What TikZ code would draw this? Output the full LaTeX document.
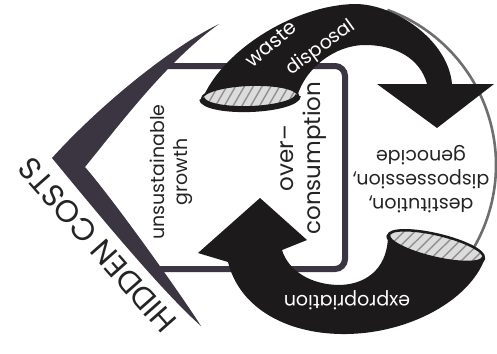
\documentclass[tikz,border=0pt]{standalone}
\usepackage{fontspec}
\setmainfont{Poppins}
\definecolor{chev}{HTML}{3A3540}
\definecolor{ink}{HTML}{1C1A1B}
\definecolor{txt}{HTML}{262326}
\definecolor{hatchbg}{HTML}{DCDCDC}
\definecolor{hatchln}{HTML}{909090}
\definecolor{ring}{HTML}{6E6E6E}
\tikzset{
  lbl/.style={text=txt, inner sep=0pt, align=center},
  wlbl/.style={text=white, inner sep=0pt, align=center},
  hatchline/.style={hatchln, line width=1.4},
}
\begin{document}
\begin{tikzpicture}[x=1pt,y=-1pt]
\useasboundingbox (0,0) rectangle (497,353);
\fill[white] (0,0) rectangle (497,353);

% ring (world circle), only right part visible
\draw[ring, line width=2.6] (331,165) ++(-70:165) arc[start angle=-70, end angle=35, radius=165];

% box
\draw[chev, line width=6, rounded corners=10] (160,66) -- (345,66) -- (345,269) -- (158,269);

% chevron
\fill[chev] (219,24) .. controls (170,48) and (100,105) .. (52,158)
  .. controls (85,198) and (160,290) .. (201,326)
  .. controls (178,290) and (112,198) .. (85,167)
  .. controls (120,124) and (168,60) .. (219,24) -- cycle;

% top arrow
\fill[ink] (202,100) .. controls (222,50) and (295,5) .. (355,4)
  .. controls (395,4) and (448,40) .. (452,84)
  -- (494,84) -- (437,128) -- (377,84) -- (427,84)
  .. controls (420,58) and (395,45) .. (365,45)
  .. controls (335,45) and (305,68) .. (297,97) -- cycle;
\begin{scope}[shift={(250,97)}, rotate=2]
  \begin{scope}
    \clip (0,0) ellipse [x radius=48, y radius=12];
    \fill[hatchbg] (-50,-14) rectangle (50,14);
    \foreach \i in {-76,-67,...,60} \draw[hatchline] (\i,16) -- ++(20,-32);
  \end{scope}
  \draw[ink, line width=2] (0,0) ellipse [x radius=48, y radius=12];
  \draw[ink, line width=6] (48,0) arc[start angle=0, end angle=180, x radius=48, y radius=12];
\end{scope}

% bottom arrow
\fill[ink] (485,258) .. controls (470,300) and (410,333) .. (347,334)
  .. controls (290,335) and (240,310) .. (228,262)
  -- (198,253) -- (260,198) -- (307,240) -- (282,250)
  .. controls (288,270) and (310,285) .. (340,285)
  .. controls (370,284) and (388,265) .. (388,235) -- cycle;
\begin{scope}[shift={(436,246.5)}, rotate=-13.3]
  \begin{scope}
    \clip (0,0) ellipse [x radius=49, y radius=12];
    \fill[hatchbg] (-52,-14) rectangle (52,14);
    \foreach \i in {-76,-67,...,60} \draw[hatchline] (\i,16) -- ++(20,-32);
  \end{scope}
  \draw[ink, line width=2.5] (0,0) ellipse [x radius=49, y radius=12];
  \draw[ink, line width=4] (49,0) arc[start angle=0, end angle=180, x radius=49, y radius=12];
\end{scope}

% labels
\node[lbl, rotate=90, font=\fontsize{19}{23}\selectfont] (ug) at (171,172) {unsustainable\\growth};
\node[lbl, rotate=90, font=\fontsize{23}{27}\selectfont] (oc) at (304,158) {over–\\consumption};
\node[wlbl, rotate=40, font=\fontsize{20}{20}\selectfont] (waste) at (271,44) {waste};
\node[wlbl, rotate=36, font=\fontsize{19}{19}\selectfont] (disp) at (321,48) {disposal};
\node[wlbl, rotate=180, font=\fontsize{19}{19}\selectfont] (expr) at (347,300) {expropriation};
\node[lbl, rotate=180, font=\fontsize{19}{24}\selectfont] (harm) at (421,179) {destitution,\\dispossession,\\genocide};
\node[lbl, rotate=131.5, font=\fontsize{31}{31}\selectfont] (hc) at (97,245) {HIDDEN COSTS};
\end{tikzpicture}
\end{document}
